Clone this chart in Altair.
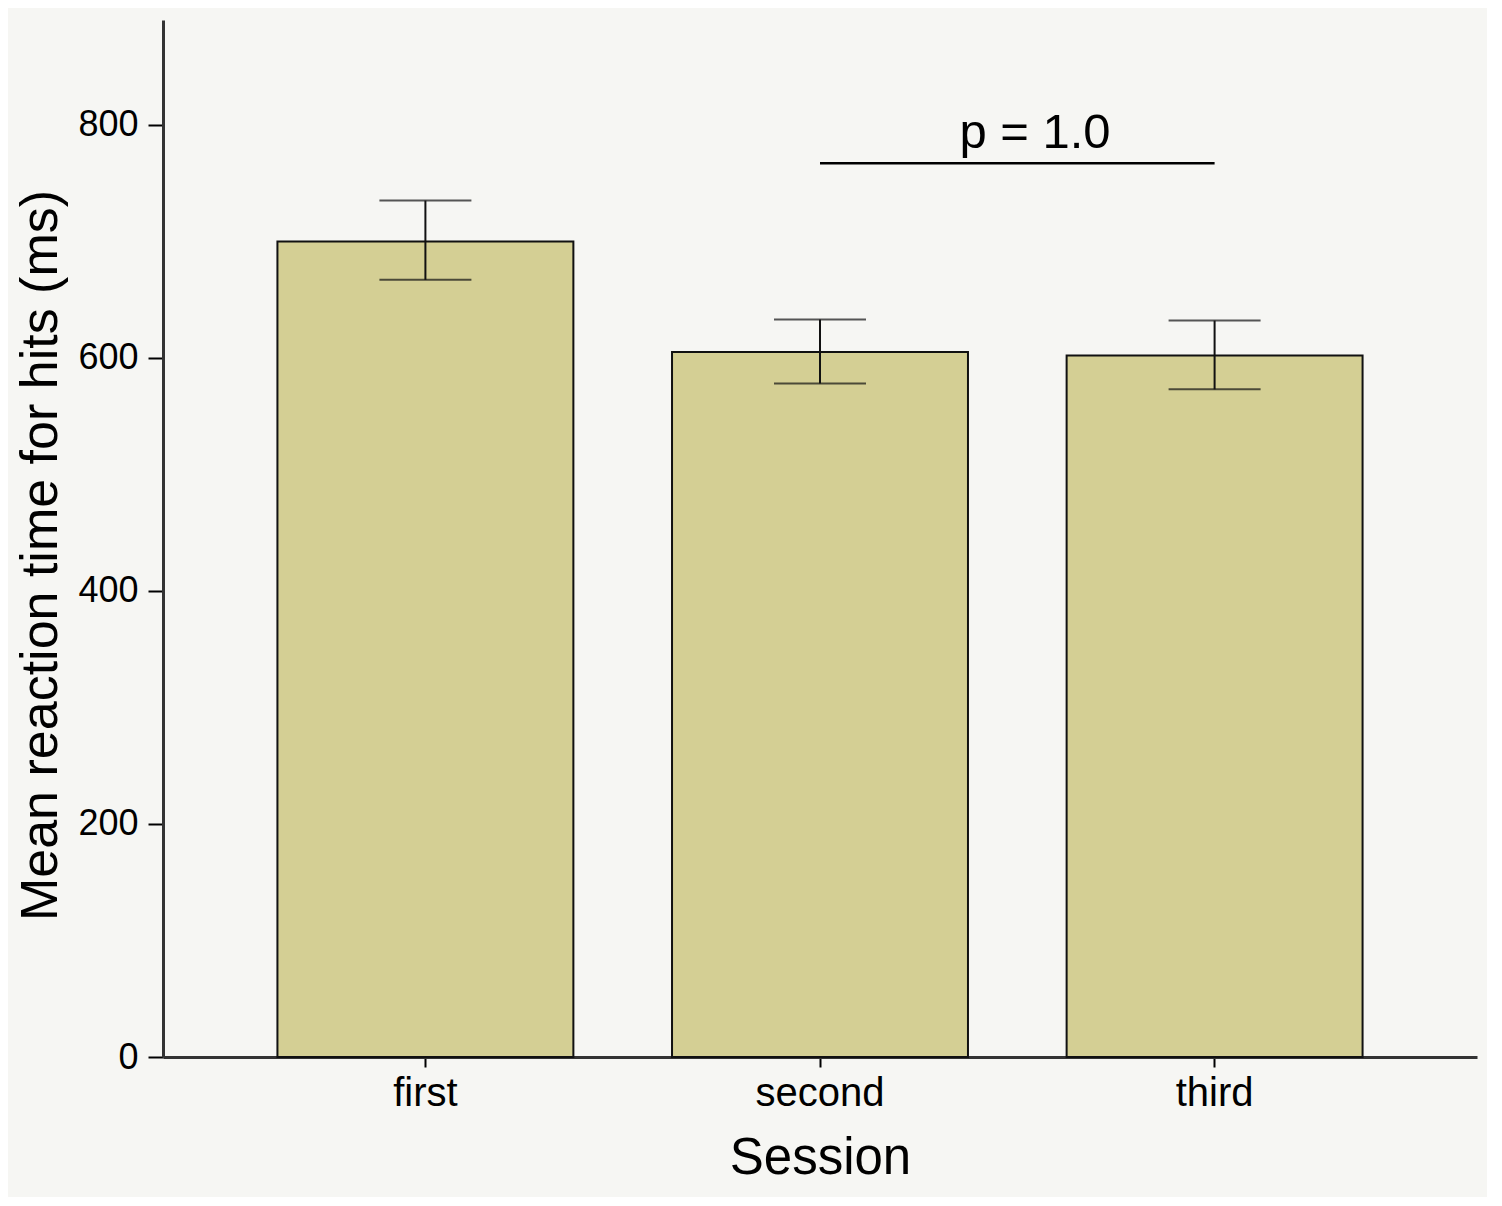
import altair as alt
import pandas as pd

sessions = ["first", "second", "third"]
means = [700, 605, 602]
err_hi = [735, 633, 632]
err_lo = [667, 578, 573]

p_label = ["p = 1.0"]
p_from = ["second"]
p_to = ["third"]
p_y = [767]
p_text_y = [780]

df = pd.DataFrame({"session": sessions, "mean": means, "hi": err_hi, "lo": err_lo})
dp = pd.DataFrame({"label": p_label, "a": p_from, "b": p_to, "y": p_y, "ty": p_text_y})

FONT = "Liberation Sans"

xscale = alt.Scale(domain=sessions, paddingInner=0.25, paddingOuter=0.29)
yscale = alt.Scale(domain=[0, 890], nice=False)

x = alt.X("session:N", scale=xscale, sort=sessions,
          axis=alt.Axis(title="Session", labelAngle=0, labelFontSize=40,
                        titleFontSize=51, labelFont=FONT, titleFont=FONT, titleFontWeight="normal",
                        labelColor="black", titleColor="black", domainColor="#333333",
                        domainWidth=3, tickColor="black", tickWidth=2, tickSize=10,
                        labelPadding=6, titlePadding=20))
y = alt.Y("mean:Q", scale=yscale,
          axis=alt.Axis(title="Mean reaction time for hits (ms)", values=[0, 200, 400, 600, 800],
                        labelFontSize=36, titleFontSize=52, labelFont=FONT, titleFont=FONT,
                        titleFontWeight="normal", labelColor="black", titleColor="black",
                        domainColor="#333333", domainWidth=3, tickColor="black", tickWidth=2,
                        tickSize=15, labelPadding=10, titlePadding=10, titleY=535, grid=False))

bars = alt.Chart(df).mark_bar(color="#d4cf94", stroke="#111111", strokeWidth=2).encode(x=x, y=y)

whisk = alt.Chart(df).mark_rule(color="#111111", strokeWidth=2).encode(
    x=alt.X("session:N", scale=xscale, sort=sessions),
    y=alt.Y("lo:Q", scale=yscale), y2="hi:Q")
cap_hi = alt.Chart(df).mark_tick(color="#111111", thickness=2, size=92).encode(
    x=alt.X("session:N", scale=xscale, sort=sessions),
    y=alt.Y("hi:Q", scale=yscale))
cap_lo = alt.Chart(df).mark_tick(color="#111111", thickness=2, size=92).encode(
    x=alt.X("session:N", scale=xscale, sort=sessions),
    y=alt.Y("lo:Q", scale=yscale))

prule = alt.Chart(dp).mark_rule(color="black", strokeWidth=2.5).encode(
    x=alt.X("a:N", scale=xscale, sort=sessions), x2="b:N",
    y=alt.Y("y:Q", scale=yscale))

ptext = alt.Chart(dp).mark_text(fontSize=49, font=FONT, color="black", baseline="alphabetic",
                                dx=215).encode(
    x=alt.X("a:N", scale=xscale, sort=sessions),
    y=alt.Y("ty:Q", scale=yscale), text="label:N")

chart = alt.layer(bars, whisk, cap_hi, cap_lo, prule, ptext).properties(
    width=1314, height=1037,
    autosize=alt.AutoSizeParams(type="none"),
    padding={"left": 155, "top": 12, "right": 10, "bottom": 140},
    background="#f6f6f3",
).configure_view(stroke=None)

chart.save("out.html", embed_options={"renderer": "svg", "actions": False})
